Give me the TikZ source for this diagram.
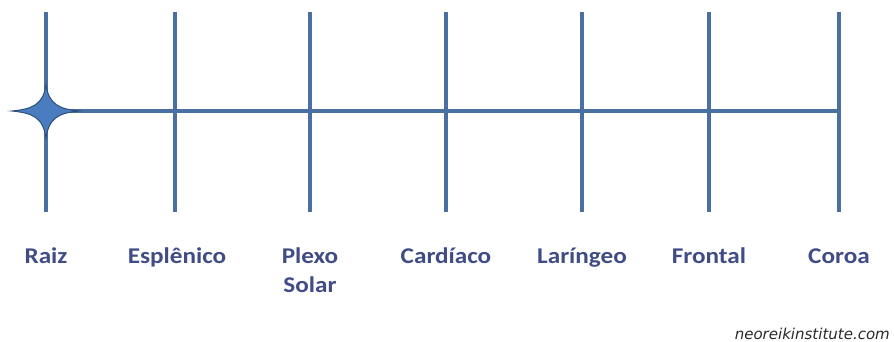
\documentclass[tikz,border=0pt]{standalone}
\usepackage{fontspec}
\setmainfont[FakeStretch=1.12]{Carlito}
\newfontfamily\wmfont{DejaVu Sans}
\definecolor{linecol}{HTML}{4A6FA3}
\definecolor{starfill}{HTML}{4A7DBF}
\definecolor{starline}{HTML}{2E4F80}
\definecolor{labcol}{HTML}{404C86}
\definecolor{wmcol}{HTML}{2A2A2A}
\begin{document}
\begin{tikzpicture}[x=1pt,y=-1pt,
  axis/.style={draw=linecol,line width=4pt},
  lab/.style={text=labcol,font=\fontsize{22.5}{29}\selectfont\bfseries,anchor=base,align=center,inner sep=0pt}]
\useasboundingbox (0,0) rectangle (894,341);
\fill[white] (0,0) rectangle (894,341);
\foreach \i/\x in {1/46,2/175,3/310,4/446,5/582,6/709,7/839}{
  \coordinate (t\i) at (\x,12);
  \coordinate (b\i) at (\x,212);
  \coordinate (m\i) at (\x,111);
}
\foreach \i in {1,...,7}{\draw[axis] (t\i) -- (b\i);}
\draw[axis] (m1) -- (m7);
% star
\filldraw[fill=starfill,draw=starline,line width=1pt,line join=miter]
  (12,111) .. controls (32,109) and (43,105) .. (46,85)
  .. controls (49,105) and (60,109) .. (79,111)
  .. controls (60,113) and (49,117) .. (46,138)
  .. controls (43,117) and (32,113) .. (12,111) -- cycle;
\node[lab] (l1) at (46,263) {Raiz};
\node[lab] (l2) at (177,263) {Esplênico};
\node[lab] (l3) at (310,292) {Plexo\\Solar};
\node[lab] (l4) at (446,263) {Cardíaco};
\node[lab] (l5) at (582,263) {Laríngeo};
\node[lab] (l6) at (709,263) {Frontal};
\node[lab] (l7) at (839,263) {Coroa};
\node[text=wmcol,font=\wmfont\fontsize{15}{18}\selectfont\itshape,anchor=base east,inner sep=0pt] (wm) at (890,339) {neoreikinstitute.com};
\end{tikzpicture}
\end{document}
